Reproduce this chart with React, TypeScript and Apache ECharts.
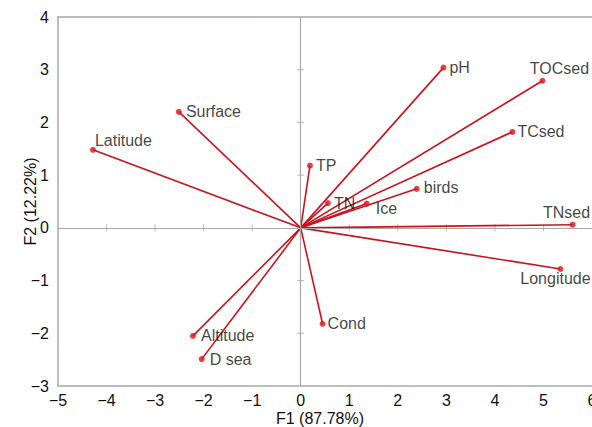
import React, { useEffect, useRef } from "react";
import * as echarts from "echarts";

const variables = ["Latitude", "Surface", "pH", "TOCsed", "TCsed", "TP", "birds", "TN", "Ice", "TNsed", "Longitude", "Cond", "Altitude", "D sea"];
const f1 = [-4.28, -2.51, 2.94, 4.98, 4.36, 0.19, 2.39, 0.56, 1.36, 5.6, 5.35, 0.45, -2.22, -2.04];
const f2 = [1.48, 2.2, 3.04, 2.79, 1.82, 1.18, 0.74, 0.47, 0.46, 0.06, -0.78, -1.82, -2.05, -2.49];
const xTicks = [-4, -3, -2, -1, 1, 2, 3, 4, 5];
const yTicks = [-2, -1, 1, 2, 3];
const xTitle = "F1 (87.78%)";
const yTitle = "F2 (12.22%)";

const labelPlacement: Record<string, any> = {
  Latitude: { position: "right", offset: [-5, -9] },
  Surface: { position: "right", offset: [0, 0] },
  pH: { position: "right", offset: [-1, 0] },
  TOCsed: { position: "top", offset: [17, 3] },
  TCsed: { position: "right", offset: [-2, 0] },
  TP: { position: "right", offset: [-1, 0] },
  birds: { position: "right", offset: [0, -1] },
  TN: { position: "right", offset: [-1, 0] },
  Ice: { position: "right", offset: [2, 5] },
  TNsed: { position: "top", offset: [-6, 3] },
  Longitude: { position: "bottom", offset: [-5, -5] },
  Cond: { position: "right", offset: [-2, 0] },
  Altitude: { position: "right", offset: [1, 0] },
  "D sea": { position: "right", offset: [1, 0] },
};

const fmt = (v: number) => (v < 0 ? "\u2212" + Math.abs(v) : String(v));

export default function App() {
  const ref = useRef<HTMLDivElement>(null);
  useEffect(() => {
    if (!ref.current) return;
    const chart = echarts.init(ref.current, null, { renderer: "svg" });
    const font = "Liberation Sans, Arial, Helvetica, sans-serif";
    const gray = "#a8a8a8";
    const ink = "#111111";
    chart.setOption({
      animation: false,
      textStyle: { fontFamily: font },
      grid: { left: 58, right: 0, top: 17, bottom: 41, outerBoundsMode: "none", containLabel: false },
      xAxis: [
        {
          type: "value",
          min: -5,
          max: 6,
          interval: 1,
          position: "bottom",
          axisLine: { show: true, onZero: false, lineStyle: { color: gray, width: 1.5 } },
          axisTick: { show: false },
          splitLine: { show: false },
          axisLabel: { color: ink, fontSize: 16, margin: 6, formatter: fmt, fontFamily: font },
          name: xTitle,
          nameLocation: "middle",
          nameGap: 24,
          nameMoveOverlap: false,
          nameTextStyle: { color: ink, fontSize: 16, fontFamily: font, padding: [0, 10, 0, 0] },
        },
        {
          type: "value",
          min: -5,
          max: 6,
          interval: 1,
          position: "top",
          axisLine: { show: true, onZero: false, lineStyle: { color: gray, width: 1.5 } },
          axisTick: { show: false },
          axisLabel: { show: false },
          splitLine: { show: false },
        },
      ],
      yAxis: {
        type: "value",
        min: -3,
        max: 4,
        interval: 1,
        axisLine: { show: true, onZero: false, lineStyle: { color: gray, width: 1.5 } },
        axisTick: { show: false },
        splitLine: { show: false },
        axisLabel: { color: ink, fontSize: 16, margin: 9, formatter: fmt, fontFamily: font },
        name: yTitle,
        nameLocation: "middle",
        nameGap: 20,
        nameMoveOverlap: false,
        nameTextStyle: { color: ink, fontSize: 16, fontFamily: font },
      },
      series: [
        {
          type: "scatter",
          z: 1,
          silent: true,
          symbol: "rect",
          data: [
            ...xTicks.map((v) => ({ value: [v, 0], symbolSize: [1, 7] })),
            ...yTicks.map((v) => ({ value: [0, v], symbolSize: [7, 1] })),
          ],
          itemStyle: { color: gray },
          markLine: {
            silent: true,
            symbol: "none",
            label: { show: false },
            lineStyle: { color: gray, type: "solid", width: 1.2 },
            data: [{ xAxis: 0 }, { yAxis: 0 }],
          },
        },
        {
          type: "lines",
          coordinateSystem: "cartesian2d",
          z: 2,
          silent: true,
          lineStyle: { color: "#c8141e", width: 1.6, opacity: 1 },
          data: variables.map((n, i) => ({ name: n, coords: [[0, 0], [f1[i], f2[i]]] })),
        },
        {
          type: "scatter",
          z: 3,
          symbol: "circle",
          symbolSize: 6,
          itemStyle: { color: "#e3101a" },
          data: variables.map((n, i) => ({
            name: n,
            value: [f1[i], f2[i]],
            label: {
              show: true,
              formatter: n,
              color: ink,
              fontSize: 16,
              fontFamily: font,
              distance: 4,
              ...labelPlacement[n],
            },
          })),
        },
      ],
    });
    return () => chart.dispose();
  }, []);
  return <div ref={ref} style={{ width: 592, height: 427, position: "absolute", left: 0, top: 0 }} />;
}
